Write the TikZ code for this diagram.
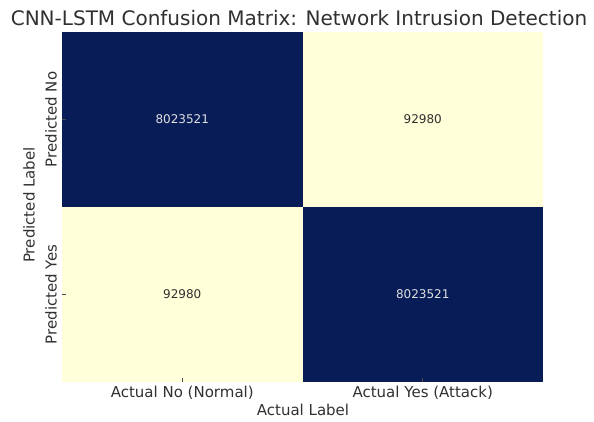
\documentclass[tikz,border=0pt]{standalone}
\usepackage{fontspec}
\setmainfont{DejaVu Sans}
\definecolor{cmdark}{HTML}{081D58}
\definecolor{cmlight}{HTML}{FFFFD9}
\definecolor{labelgray}{HTML}{303030}
\begin{document}
\begin{tikzpicture}[x=1pt, y=-1pt,
        cell/.style={minimum width=240.5pt, minimum height=175pt, inner sep=0pt,
            font=\fontsize{12}{14}\selectfont},
        darkcell/.style={cell, fill=cmdark, text=white!88!black},
        lightcell/.style={cell, fill=cmlight, text=labelgray},
        ticklabel/.style={text=labelgray, inner sep=0pt, font=\fontsize{15}{18}\selectfont},
        tickmark/.style={black!70, line width=0.8pt}]
    \useasboundingbox (0,0) rectangle (594,421);
    \node[text=labelgray, font=\fontsize{20}{24}\selectfont] (title) at (299,18)
        {CNN-LSTM Confusion Matrix: Network Intrusion Detection};
    % the four cells
    \node[darkcell]  (tn) at (182.25,119.5) {8023521};
    \node[lightcell] (fp) at (422.75,119.5) {92980};
    \node[lightcell] (fn) at (182.25,294.5) {92980};
    \node[darkcell]  (tp) at (422.75,294.5) {8023521};
    % ticks
    \draw[tickmark] (tn.west) -- ++(4,0);
    \draw[tickmark] (fn.west) -- ++(4,0);
    \draw[tickmark] (fn.south) -- ++(0,-4);
    \draw[tickmark] (tp.south) -- ++(0,-4);
    % tick labels and axis labels
    \node[ticklabel, rotate=90] (predno)  at (51,119.5) {Predicted No};
    \node[ticklabel, rotate=90] (predyes) at (51,294.5) {Predicted Yes};
    \node[ticklabel, rotate=90] (ylabel)  at (29,205) {Predicted Label};
    \node[ticklabel] (actno)  at (182.25,393) {Actual No (Normal)};
    \node[ticklabel] (actyes) at (422.75,393) {Actual Yes (Attack)};
    \node[ticklabel] (xlabel) at (303,410) {Actual Label};
\end{tikzpicture}
\end{document}
